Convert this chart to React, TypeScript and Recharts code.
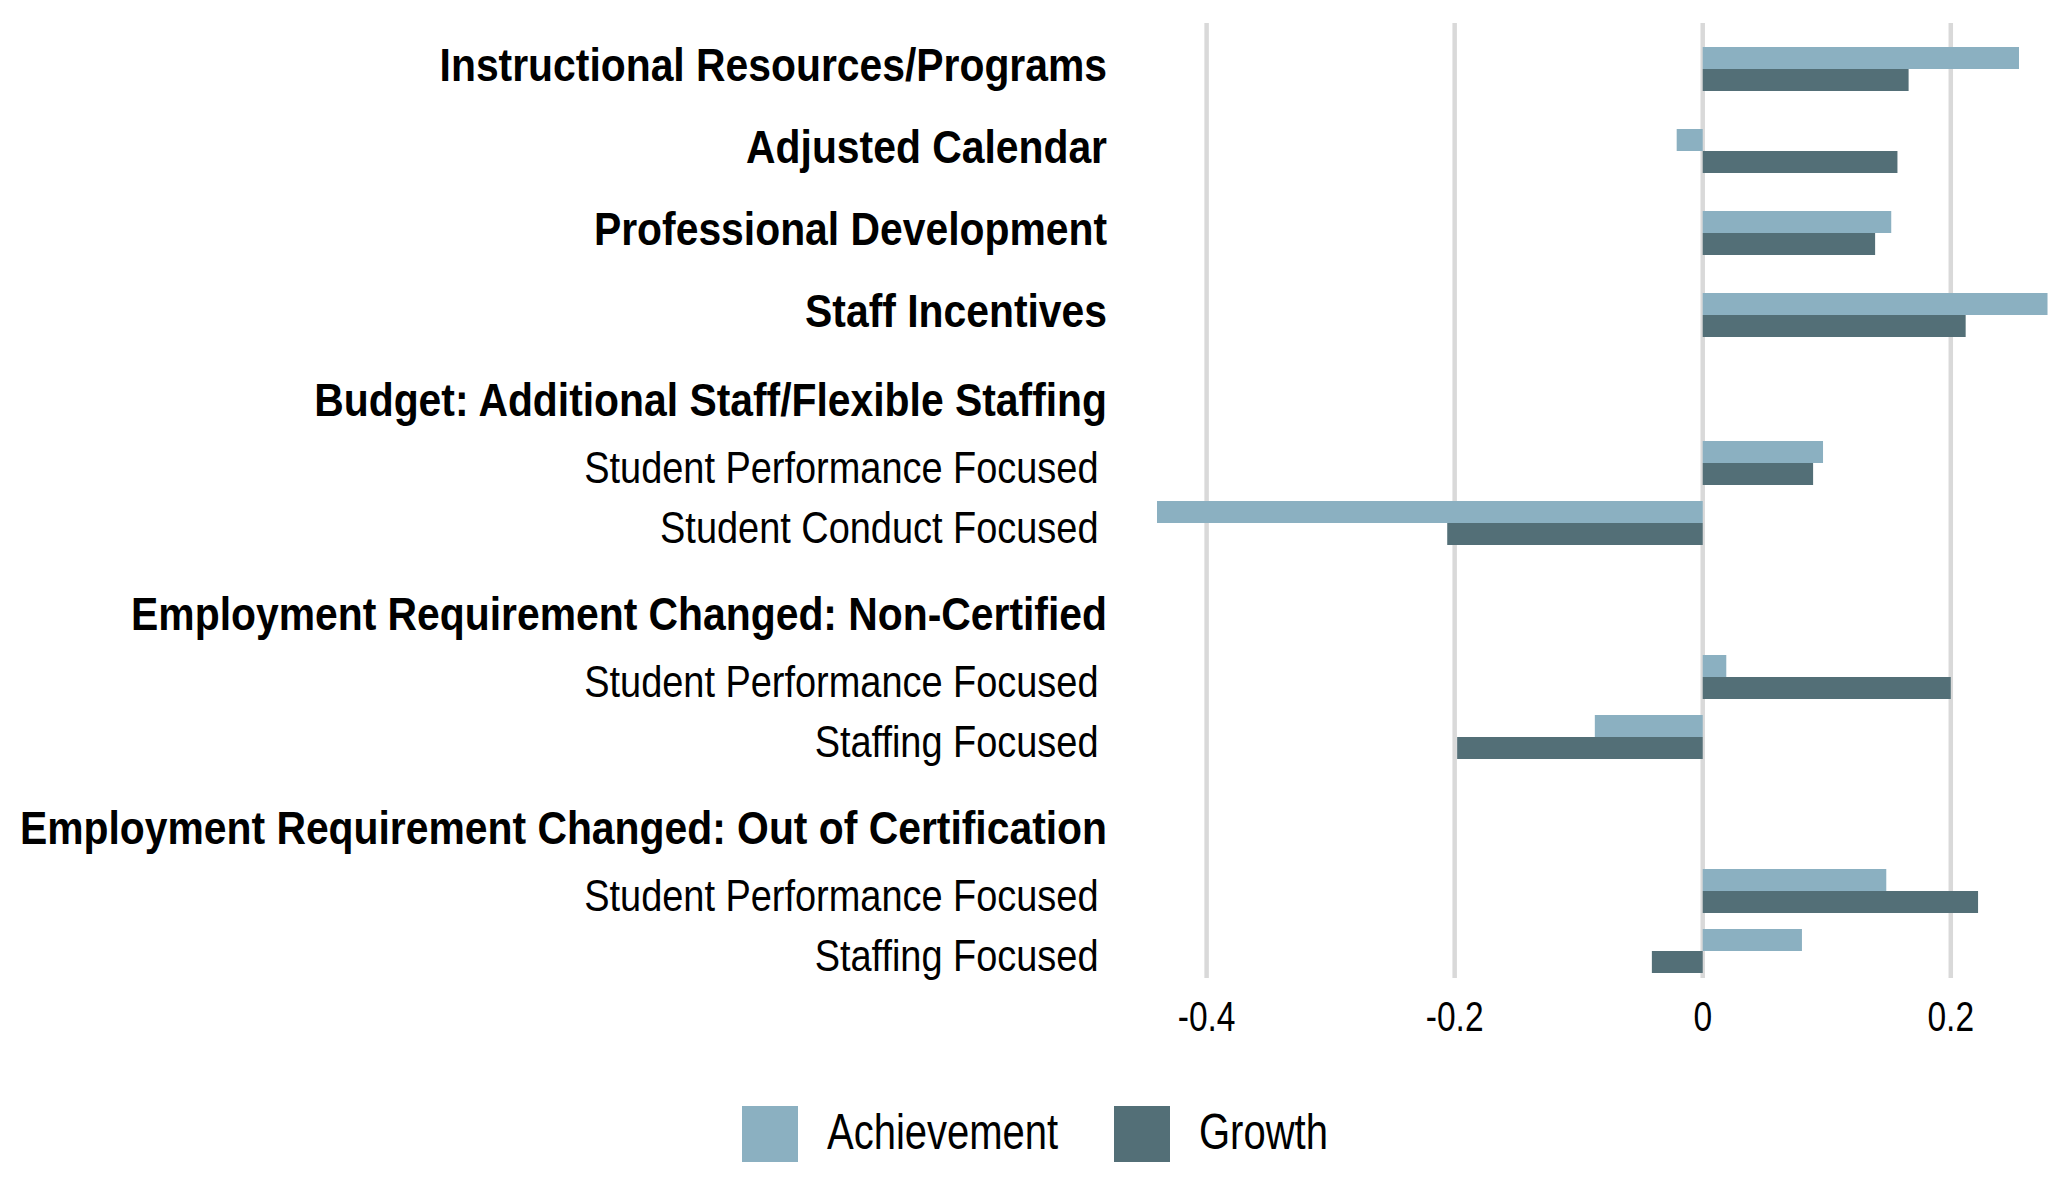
import React from "react";
import { BarChart, Bar, XAxis, YAxis, CartesianGrid, Legend } from "recharts";

// Row labels, top to bottom
const labels: string[] = [
  "Instructional Resources/Programs",
  "Adjusted Calendar",
  "Professional Development",
  "Staff Incentives",
  "Budget: Additional Staff/Flexible Staffing",
  "Student Performance Focused",
  "Student Conduct Focused",
  "Employment Requirement Changed: Non-Certified",
  "Student Performance Focused",
  "Staffing Focused",
  "Employment Requirement Changed: Out of Certification",
  "Student Performance Focused",
  "Staffing Focused",
];

// main = stand-alone strategy, group = section heading (no bars), sub = item inside a section
const rowKinds: string[] = [
  "main", "main", "main", "main",
  "group", "sub", "sub",
  "group", "sub", "sub",
  "group", "sub", "sub",
];

const achievement: (number | null)[] = [
  0.255, -0.021, 0.152, 0.278,
  null, 0.097, -0.44,
  null, 0.019, -0.087,
  null, 0.148, 0.08,
];

const growth: (number | null)[] = [
  0.166, 0.157, 0.139, 0.212,
  null, 0.089, -0.206,
  null, 0.2, -0.198,
  null, 0.222, -0.041,
];

const xTicks: number[] = [-0.4, -0.2, 0, 0.2];
const X_DOMAIN: [number, number] = [-0.44, 0.28];

// Vertical rhythm: distance between consecutive rows depends on their kinds
const ROW_STEP: Record<string, number> = {
  "main>main": 82,
  "main>group": 85,
  "group>sub": 63,
  "sub>sub": 60,
  "sub>group": 91,
};
const FIRST_ROW = 46;
const PLOT_HEIGHT = 955;

const rowPositions: number[] = (() => {
  let p = FIRST_ROW;
  return rowKinds.map((k, i) => {
    if (i > 0) p += ROW_STEP[`${rowKinds[i - 1]}>${k}`];
    return p;
  });
})();

const rows = labels.map((label, i) => ({
  label,
  kind: rowKinds[i],
  pos: rowPositions[i],
  Achievement: achievement[i],
  Growth: growth[i],
}));

const FONT = "'Liberation Sans', Arial, sans-serif";
const LIGHT = "#8bb0c1";
const DARK = "#536f77";

// Label style per row kind
const LABEL_STYLE: Record<string, { size: number; weight: number; shift: number; squeeze: number; dy: number }> = {
  main: { size: 46, weight: 700, shift: 50, squeeze: 0.888, dy: -4 },
  group: { size: 46, weight: 700, shift: 50, squeeze: 0.888, dy: 0 },
  sub: { size: 44, weight: 400, shift: 58.5, squeeze: 0.862, dy: 4 },
};

const RowTick = (props: any) => {
  const { x, y, payload } = props;
  const row = rows.find((r) => r.pos === payload.value);
  if (!row) return null;
  const s = LABEL_STYLE[row.kind];
  return (
    <text
      transform={`translate(${x - s.shift},${y + s.dy + s.size * 0.358}) scale(${s.squeeze},1)`}
      textAnchor="end"
      fontFamily={FONT}
      fontSize={s.size}
      fontWeight={s.weight}
      fill="#000"
    >
      {row.label}
    </text>
  );
};

const ValueTick = (props: any) => {
  const { x, y, payload } = props;
  return (
    <text
      transform={`translate(${x},${y + 52.7}) scale(0.78,1)`}
      textAnchor="middle"
      fontFamily={FONT}
      fontSize={43}
      fill="#000"
    >
      {payload.value}
    </text>
  );
};

// Grid lines only at the value ticks, placed with the axis scale
const gridAtTicks = (args: any) => {
  const { xAxis, offset } = args || {};
  if (xAxis && typeof xAxis.scale === "function") {
    return xTicks.map((t) => xAxis.scale(t));
  }
  const [lo, hi] = X_DOMAIN;
  return xTicks.map((t) => offset.left + ((t - lo) / (hi - lo)) * offset.width);
};

const LegendContent = (props: any) => {
  const items = props.payload || [];
  return (
    <svg width={620} height={80} style={{ display: "block", overflow: "visible" }}>
      {items.map((it: any, i: number) => (
        <g key={it.value} transform={`translate(${i * 372},10)`}>
          <rect x={0} y={0} width={56} height={56} fill={it.color} />
          <text
            transform="translate(85,43.3) scale(0.8,1)"
            fontFamily={FONT}
            fontSize={50}
            fill="#000"
          >
            {it.value}
          </text>
        </g>
      ))}
    </svg>
  );
};

export default function App() {
  return (
    <div style={{ width: 2052, height: 1186, background: "#fff", overflow: "hidden" }}>
      <style>{"body{margin:0;overflow:hidden;background:#fff}"}</style>
      <BarChart
        width={2052}
        height={1186}
        data={rows}
        layout="vertical"
        margin={{ top: 23, right: 2, bottom: 148, left: 0 }}
        barSize={22}
        barGap={0}
      >
        <CartesianGrid
          horizontal={false}
          stroke="#d9d9d9"
          strokeWidth={4.5}
          verticalCoordinatesGenerator={gridAtTicks}
        />
        <XAxis
          type="number"
          domain={X_DOMAIN}
          allowDataOverflow
          ticks={xTicks}
          interval={0}
          axisLine={false}
          tickLine={false}
          tickSize={0}
          tickMargin={0}
          height={60}
          tick={<ValueTick />}
        />
        <YAxis
          type="number"
          dataKey="pos"
          domain={[0, PLOT_HEIGHT]}
          allowDataOverflow
          ticks={rowPositions}
          interval={0}
          axisLine={false}
          tickLine={false}
          tickSize={0}
          tickMargin={0}
          width={1157}
          tick={<RowTick />}
        />
        <Legend
          layout="horizontal"
          verticalAlign="middle"
          align="center"
          wrapperStyle={{ top: 1096, left: 742, width: 620, height: 80 }}
          content={<LegendContent />}
        />
        <Bar dataKey="Achievement" fill={LIGHT} isAnimationActive={false} />
        <Bar dataKey="Growth" fill={DARK} isAnimationActive={false} />
      </BarChart>
    </div>
  );
}
